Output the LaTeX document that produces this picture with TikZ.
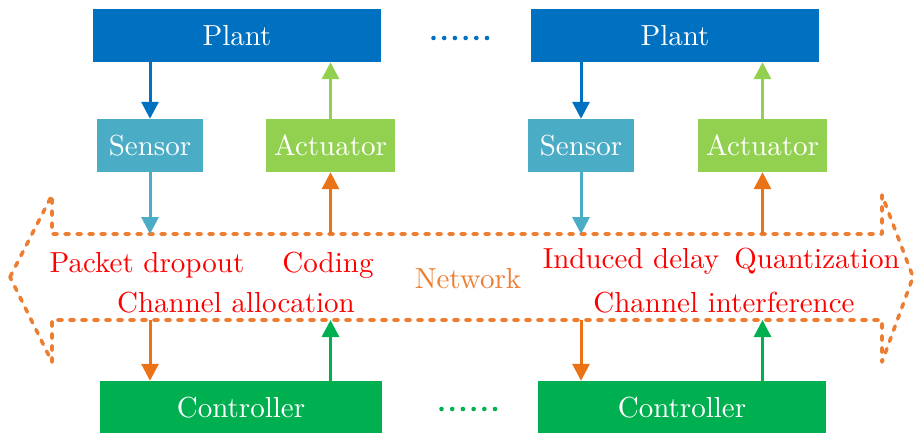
\documentclass[tikz,border=0pt]{standalone}
\usepackage{fontspec}
\setmainfont{lmroman10-regular.otf}
\usetikzlibrary{arrows.meta}
\definecolor{plantblue}{HTML}{0070C0}
\definecolor{sensorcol}{HTML}{4BACC6}
\definecolor{actcol}{HTML}{92D050}
\definecolor{ctrlcol}{HTML}{00B050}
\definecolor{netorange}{HTML}{ED7D31}
\definecolor{arrorange}{HTML}{EB7316}
\definecolor{labred}{HTML}{FF0000}
\begin{document}
\begin{tikzpicture}[x=1pt,y=-1pt,
  bigfont/.style={font=\rmfamily\fontsize{29}{35}\selectfont},
  box/.style={bigfont, draw=none, inner sep=0pt, text=white, text height=20pt, text depth=0pt, anchor=center},
  plantbox/.style={box, fill=plantblue, minimum width=288pt, minimum height=53pt},
  sensorbox/.style={box, fill=sensorcol, minimum width=106pt, minimum height=53pt},
  actbox/.style={box, fill=actcol, minimum width=129pt, minimum height=53pt},
  ctrlbox/.style={box, fill=ctrlcol, minimum width=288pt, minimum height=52pt},
  lab/.style={bigfont, text=labred, inner sep=0pt, anchor=base},
  conn/.style={line width=3pt, -{Triangle[width=17pt,length=17pt]}},
  netline/.style={netorange, line width=3.6pt, dash pattern=on 4.5pt off 7.5pt, line cap=round, line join=round},
  dot/.style={circle, inner sep=0pt, minimum size=4.6pt}
]
\useasboundingbox (0,0) rectangle (915,432);

% Network double arrow
\draw[netline] (10,277) -- (52,195) -- (52,234) -- (882,234) -- (882,195) -- (913,277)
  -- (882,362) -- (882,320) -- (52,320) -- (52,362) -- cycle;

% boxes
\node[plantbox] (plant1) at (237,35.5) {Plant};
\node[plantbox] (plant2) at (675,35.5) {Plant};
\node[sensorbox] (sens1) at (150,145.5) {Sensor};
\node[actbox] (act1) at (330.5,145.5) {Actuator};
\node[sensorbox] (sens2) at (581,145.5) {Sensor};
\node[actbox] (act2) at (762.5,145.5) {Actuator};
\node[ctrlbox, minimum width=282pt] (ctrl1) at (241,407) {Controller};
\node[ctrlbox] (ctrl2) at (682,407) {Controller};

% network boundary coordinates
\coordinate (nt1) at (150,234);
\coordinate (nt2) at (330.5,234);
\coordinate (nt3) at (581,234);
\coordinate (nt4) at (762.5,234);
\coordinate (nb1) at (150,320);
\coordinate (nb2) at (330.5,320);
\coordinate (nb3) at (581,320);
\coordinate (nb4) at (762.5,320);

% connectors upper
\draw[conn, plantblue] (plant1.south -| sens1.north) -- (sens1.north);
\draw[conn, actcol] (act1.north) -- (plant1.south -| act1.north);
\draw[conn, plantblue] (plant2.south -| sens2.north) -- (sens2.north);
\draw[conn, actcol] (act2.north) -- (plant2.south -| act2.north);
\draw[conn, sensorcol] (sens1.south) -- (nt1);
\draw[conn, arrorange] (nt2) -- (act1.south);
\draw[conn, sensorcol] (sens2.south) -- (nt3);
\draw[conn, arrorange] (nt4) -- (act2.south);

% connectors lower
\draw[conn, arrorange] (nb1) -- (ctrl1.north -| nb1);
\draw[conn, ctrlcol] (ctrl1.north -| nb2) -- (nb2);
\draw[conn, arrorange] (nb3) -- (ctrl2.north -| nb3);
\draw[conn, ctrlcol] (ctrl2.north -| nb4) -- (nb4);

% labels
\node[lab] (l1) at (147,272) {Packet dropout};
\node[lab] (l2) at (328,272) {Coding};
\node[lab, text=netorange] (l3) at (468,288) {Network};
\node[lab] (l4) at (631,268) {Induced delay};
\node[lab] (l5) at (817,268) {Quantization};
\node[lab] (l6) at (236,312) {Channel allocation};
\node[lab] (l7) at (724,312) {Channel interference};

% dots
\foreach \i in {0,...,5} {
  \node[dot, fill=plantblue] (bd\i) at (433.5+10.7*\i,38) {};
  \node[dot, fill=ctrlcol] (gd\i) at (441.5+10.7*\i,409) {};
}
\end{tikzpicture}
\end{document}
